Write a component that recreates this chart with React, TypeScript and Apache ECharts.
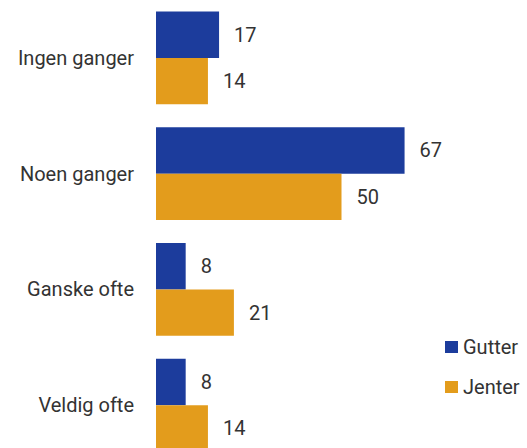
import React, { useEffect, useRef } from "react";
import * as echarts from "echarts";

const categories = ["Ingen ganger", "Noen ganger", "Ganske ofte", "Veldig ofte"];
const gutter = [17, 67, 8, 8];
const jenter = [14, 50, 21, 14];
const seriesNames = ["Gutter", "Jenter"];

const BLUE = "#1c3c9c";
const ORANGE = "#e39c1c";
const FONT = "Roboto";
const TEXT = "#333333";

export default function App() {
  const ref = useRef<HTMLDivElement>(null);
  useEffect(() => {
    if (!ref.current) return;
    const chart = echarts.init(ref.current, undefined, { renderer: "svg" });
    const label = {
      show: true,
      position: "right",
      distance: 15,
      color: TEXT,
      fontFamily: FONT,
      fontSize: 20,
    };
    chart.setOption({
      animation: false,
      backgroundColor: "#ffffff",
      grid: { left: 156, top: 0, width: 377, height: 463 },
      legend: {
        orient: "vertical",
        left: 440,
        top: 332,
        itemWidth: 13,
        itemHeight: 12,
        itemGap: 20,
        icon: "rect",
        textStyle: { color: TEXT, fontFamily: FONT, fontSize: 20 },
        data: seriesNames,
      },
      xAxis: { type: "value", min: 0, max: 100, show: false },
      yAxis: {
        type: "category",
        data: categories,
        inverse: true,
        axisLine: { show: false },
        axisTick: { show: false },
        axisLabel: { color: TEXT, fontFamily: FONT, fontSize: 20, margin: 22 },
      },
      series: [
        {
          name: seriesNames[0],
          type: "bar",
          data: gutter,
          itemStyle: { color: BLUE },
          barGap: "0%",
          barCategoryGap: "20%",
          label,
        },
        {
          name: seriesNames[1],
          type: "bar",
          data: jenter,
          itemStyle: { color: ORANGE },
          barGap: "0%",
          barCategoryGap: "20%",
          label,
        },
      ],
    });
    return () => chart.dispose();
  }, []);
  return (
    <div
      style={{
        position: "absolute",
        left: 0,
        top: 0,
        width: 527,
        height: 448,
        overflow: "hidden",
        background: "#ffffff",
      }}
    >
      <div ref={ref} style={{ width: 527, height: 464 }} />
    </div>
  );
}
